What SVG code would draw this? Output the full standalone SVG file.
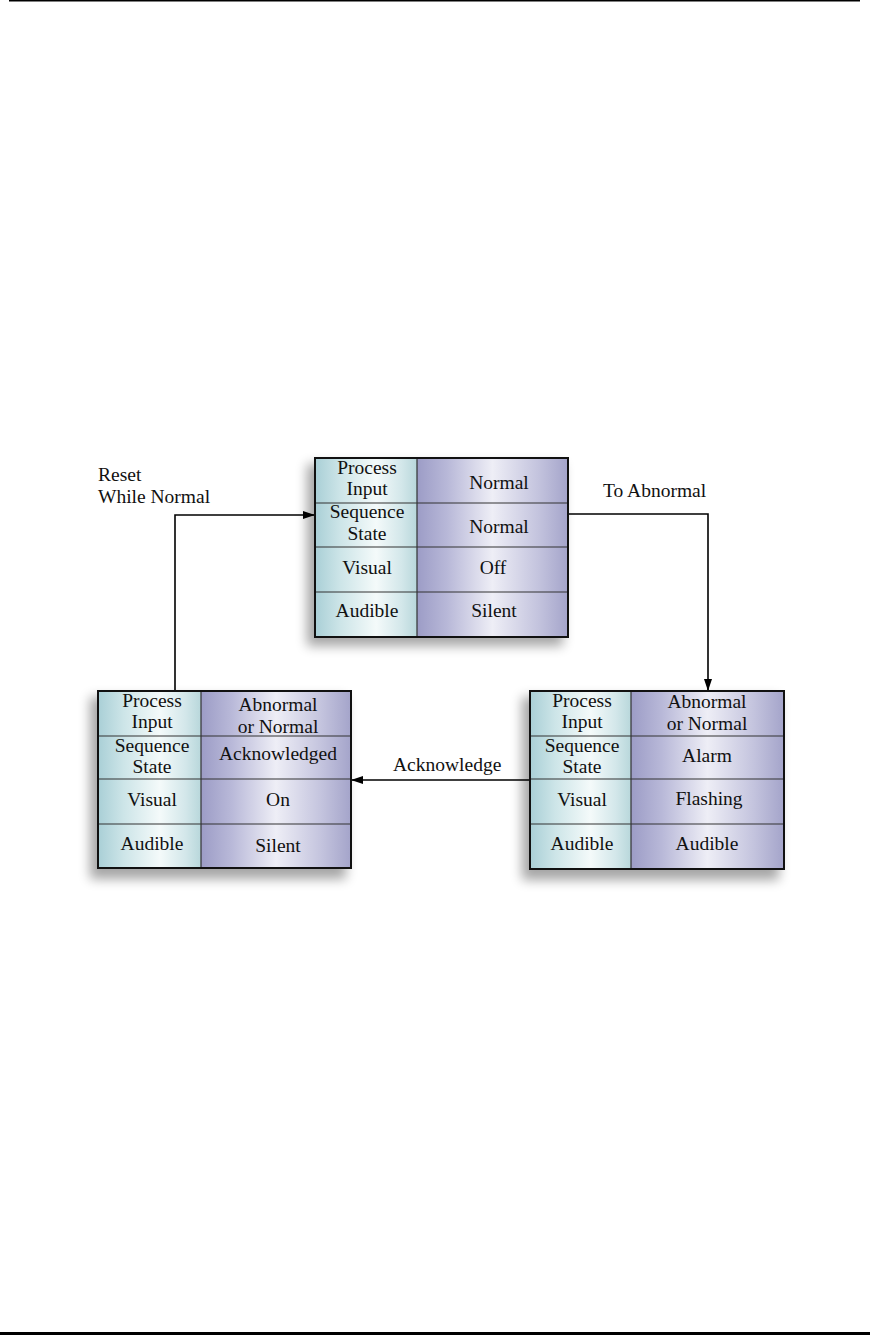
<svg xmlns="http://www.w3.org/2000/svg" width="870" height="1335" viewBox="0 0 870 1335">
<style>
  text { font-family: "Liberation Serif", "Times New Roman", serif; font-size: 19.5px; fill: #111; }
  .c { text-anchor: middle; }
  .grid { stroke: #333; stroke-width: 1.2; fill: none; }
  .frame { stroke: #111; stroke-width: 2; fill: none; }
  .conn { stroke: #000; stroke-width: 1.6; fill: none; }
</style>
<defs>
  <linearGradient id="gl" x1="0" y1="0" x2="1" y2="0">
    <stop offset="0" stop-color="#a9cfd6"/>
    <stop offset="0.25" stop-color="#cde5e8"/>
    <stop offset="0.6" stop-color="#f4fafa"/>
    <stop offset="0.85" stop-color="#d3e7ea"/>
    <stop offset="1" stop-color="#b8d7db"/>
  </linearGradient>
  <linearGradient id="gr" x1="0" y1="0" x2="1" y2="0">
    <stop offset="0" stop-color="#9c9cc6"/>
    <stop offset="0.2" stop-color="#b8b8d8"/>
    <stop offset="0.5" stop-color="#eeeef6"/>
    <stop offset="0.8" stop-color="#c4c4de"/>
    <stop offset="1" stop-color="#a4a4ca"/>
  </linearGradient>
  <filter id="sh" x="-20%" y="-20%" width="140%" height="150%">
    <feGaussianBlur stdDeviation="6"/>
  </filter>
  <marker id="ah" viewBox="0 0 12 8" refX="12" refY="4" markerWidth="12" markerHeight="8" markerUnits="userSpaceOnUse" orient="auto">
    <path d="M0,0 L12,4 L0,8 Z" fill="#000"/>
  </marker>
</defs>

<rect x="0" y="0" width="870" height="1335" fill="#fff"/>
<line x1="9" y1="0.8" x2="860" y2="0.8" stroke="#000" stroke-width="1.5"/>
<line x1="0" y1="1333.5" x2="870" y2="1333.5" stroke="#000" stroke-width="3"/>

<g id="connectors">
  <polyline class="conn" points="175,691 175,515 315,515" marker-end="url(#ah)"/>
  <polyline class="conn" points="568,514 708,514 708,691" marker-end="url(#ah)"/>
  <line class="conn" x1="530" y1="780" x2="351" y2="780" marker-end="url(#ah)"/>
  <text x="98" y="481">Reset</text>
  <text x="98" y="503">While Normal</text>
  <text x="603" y="497">To Abnormal</text>
  <text x="393" y="771">Acknowledge</text>
</g>

<g id="node-normal">
  <rect x="307" y="464" width="256" height="182" fill="#000" opacity="0.35" filter="url(#sh)"/>
  <rect x="315" y="458" width="102" height="179" fill="url(#gl)"/>
  <rect x="417" y="458" width="151" height="179" fill="url(#gr)"/>
  <path class="grid" d="M417,458 V637 M315,503 H568 M315,547 H568 M315,592 H568"/>
  <rect class="frame" x="315" y="458" width="253" height="179"/>
  <text class="c" x="367" y="474">Process</text>
  <text class="c" x="367" y="495">Input</text>
  <text class="c" x="499" y="489">Normal</text>
  <text class="c" x="367" y="518">Sequence</text>
  <text class="c" x="367" y="540">State</text>
  <text class="c" x="499" y="533">Normal</text>
  <text class="c" x="367" y="574">Visual</text>
  <text class="c" x="493" y="574">Off</text>
  <text class="c" x="367" y="617">Audible</text>
  <text class="c" x="494" y="617">Silent</text>
</g>

<g id="node-acknowledged">
  <rect x="90" y="697" width="256" height="182" fill="#000" opacity="0.35" filter="url(#sh)"/>
  <rect x="98" y="691" width="103" height="177" fill="url(#gl)"/>
  <rect x="201" y="691" width="150" height="177" fill="url(#gr)"/>
  <path class="grid" d="M201,691 V868 M98,736 H351 M98,779 H351 M98,824 H351"/>
  <rect class="frame" x="98" y="691" width="253" height="177"/>
  <text class="c" x="152" y="707">Process</text>
  <text class="c" x="152" y="728">Input</text>
  <text class="c" x="278" y="711">Abnormal</text>
  <text class="c" x="278" y="733">or Normal</text>
  <text class="c" x="152" y="752">Sequence</text>
  <text class="c" x="152" y="773">State</text>
  <text class="c" x="278" y="760">Acknowledged</text>
  <text class="c" x="152" y="806">Visual</text>
  <text class="c" x="278" y="806">On</text>
  <text class="c" x="152" y="850">Audible</text>
  <text class="c" x="278" y="852">Silent</text>
</g>

<g id="node-alarm">
  <rect x="522" y="697" width="257" height="183" fill="#000" opacity="0.35" filter="url(#sh)"/>
  <rect x="530" y="691" width="101" height="178" fill="url(#gl)"/>
  <rect x="631" y="691" width="153" height="178" fill="url(#gr)"/>
  <path class="grid" d="M631,691 V869 M530,736 H784 M530,779 H784 M530,824 H784"/>
  <rect class="frame" x="530" y="691" width="254" height="178"/>
  <text class="c" x="582" y="707">Process</text>
  <text class="c" x="582" y="728">Input</text>
  <text class="c" x="707" y="708">Abnormal</text>
  <text class="c" x="707" y="730">or Normal</text>
  <text class="c" x="582" y="752">Sequence</text>
  <text class="c" x="582" y="773">State</text>
  <text class="c" x="707" y="762">Alarm</text>
  <text class="c" x="582" y="806">Visual</text>
  <text class="c" x="709" y="805">Flashing</text>
  <text class="c" x="582" y="850">Audible</text>
  <text class="c" x="707" y="850">Audible</text>
</g>
</svg>
